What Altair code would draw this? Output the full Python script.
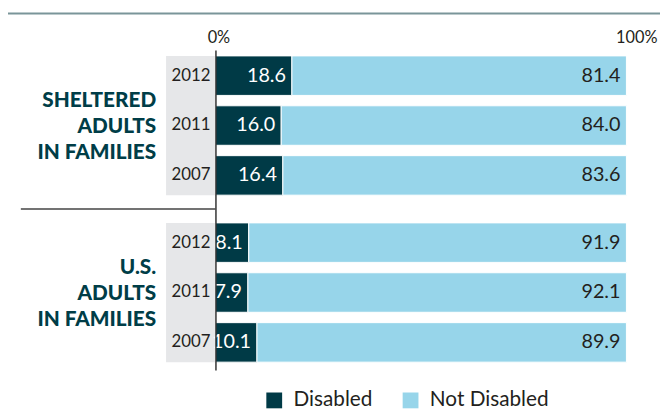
import altair as alt
import pandas as pd

groups = ["SHELTERED", "US"]
group_labels = ["SHELTERED\nADULTS\nIN FAMILIES", "U.S.\nADULTS\nIN FAMILIES"]
years = ["2012", "2011", "2007"]
disabled_sheltered = [18.6, 16.0, 16.4]
not_disabled_sheltered = [81.4, 84.0, 83.6]
disabled_us = [8.1, 7.9, 10.1]
not_disabled_us = [91.9, 92.1, 89.9]
statuses = ["Disabled", "Not Disabled"]
colors = ["#003a46", "#97d5ea"]
x_ticks = [0, 100]

FONT = "Lato"
DARK_TEXT = "#231f20"
LABEL_COLOR = "#003d47"

rows = []
for g, dis, nd in [(groups[0], disabled_sheltered, not_disabled_sheltered),
                   (groups[1], disabled_us, not_disabled_us)]:
    for i, yr in enumerate(years):
        rows.append({"group": g, "year": yr, "status": statuses[0], "value": dis[i], "order": 0})
        rows.append({"group": g, "year": yr, "status": statuses[1], "value": nd[i], "order": 1})
df = pd.DataFrame(rows)
years_df = pd.DataFrame([{"group": g, "year": y} for g in groups for y in years])
groups_df = pd.DataFrame({"group": groups, "label": group_labels})
sep_df = pd.DataFrame({"group": [groups[1]]})
one_df = pd.DataFrame({"k": [0]})

y_enc = alt.Y(
    "group:N",
    scale=alt.Scale(domain=groups, paddingInner=0.166, paddingOuter=0.0414, align=0.43),
    axis=alt.Axis(labels=False, ticks=False, title=None, domainColor="#333333",
                  domainWidth=1.5, grid=False),
)
yoff_enc = alt.YOffset("year:N", scale=alt.Scale(domain=years, paddingInner=0.208, paddingOuter=0))
x_scale = alt.Scale(domain=[0, 100], nice=False)

band = alt.Chart(groups_df).mark_rect(color="#e6e7e9").encode(
    y=y_enc, x=alt.value(-50), x2=alt.value(0)
)

bars = alt.Chart(df).mark_bar(stroke="white", strokeWidth=1).encode(
    x=alt.X("value:Q", stack="zero", scale=x_scale,
            axis=alt.Axis(orient="top", values=x_ticks, labelExpr="datum.value + '%'",
                          ticks=False, domain=False, grid=False, title=None,
                          labelFlush=False, labelAlign="center",
                          labelOffset={"condition": {"test": "datum.value == 100", "value": 10},
                                       "value": 3},
                          labelPadding=5, labelFontSize=16.5, labelFont=FONT,
                          labelColor=DARK_TEXT)),
    y=alt.Y("group:N"),
    yOffset=yoff_enc,
    color=alt.Color("status:N", scale=alt.Scale(domain=statuses, range=colors),
                    legend=alt.Legend(title=None, orient="none", legendX=49, legendY=344,
                                      direction="horizontal", symbolType="square",
                                      symbolSize=256, symbolStrokeWidth=0,
                                      labelFontSize=21, labelFont=FONT, labelColor=DARK_TEXT,
                                      labelOffset=9, columnPadding=28)),
    order=alt.Order("order:Q"),
)

values = alt.Chart(df).mark_text(align="right", baseline="middle", dx=-6, fontSize=20,
                                 font=FONT).encode(
    x=alt.X("value:Q", stack="zero", scale=x_scale),
    y=alt.Y("group:N"),
    yOffset=yoff_enc,
    detail="status:N",
    order=alt.Order("order:Q"),
    text=alt.Text("value:Q", format=".1f"),
    color=alt.condition("datum.status == 'Disabled'", alt.value("white"), alt.value(DARK_TEXT)),
)

year_labels = alt.Chart(years_df).mark_text(align="right", baseline="middle", dx=-5,
                                            fontSize=17, font=FONT, color=DARK_TEXT).encode(
    x=alt.value(0), y=alt.Y("group:N"), yOffset=yoff_enc, text="year:N"
)

group_text = alt.Chart(groups_df).mark_text(align="right", baseline="middle", fontSize=21,
                                            fontWeight=900, font=FONT, color=LABEL_COLOR,
                                            lineBreak="\n", lineHeight=26.5, dy=-25).encode(
    x=alt.value(-60), y=alt.Y("group:N"), text="label:N"
)

separator = alt.Chart(sep_df).mark_rule(color="#444444", strokeWidth=1.5, yOffset=-14).encode(
    y=alt.Y("group:N", bandPosition=0), x=alt.value(-197), x2=alt.value(0)
)

top_rule = alt.Chart(one_df).mark_rule(color="#7a9599", strokeWidth=2).encode(
    y=alt.value(-37), x=alt.value(-211), x2=alt.value(450)
)

chart = alt.layer(band, bars, values, year_labels, group_text, separator, top_rule).properties(
    width=416, height=324,
    padding={"left": 210, "top": 40, "right": 34, "bottom": 39},
    autosize=alt.AutoSizeParams(type="none"),
).configure_view(stroke=None)

chart.save("out.html", embed_options={"renderer": "svg", "actions": False})
